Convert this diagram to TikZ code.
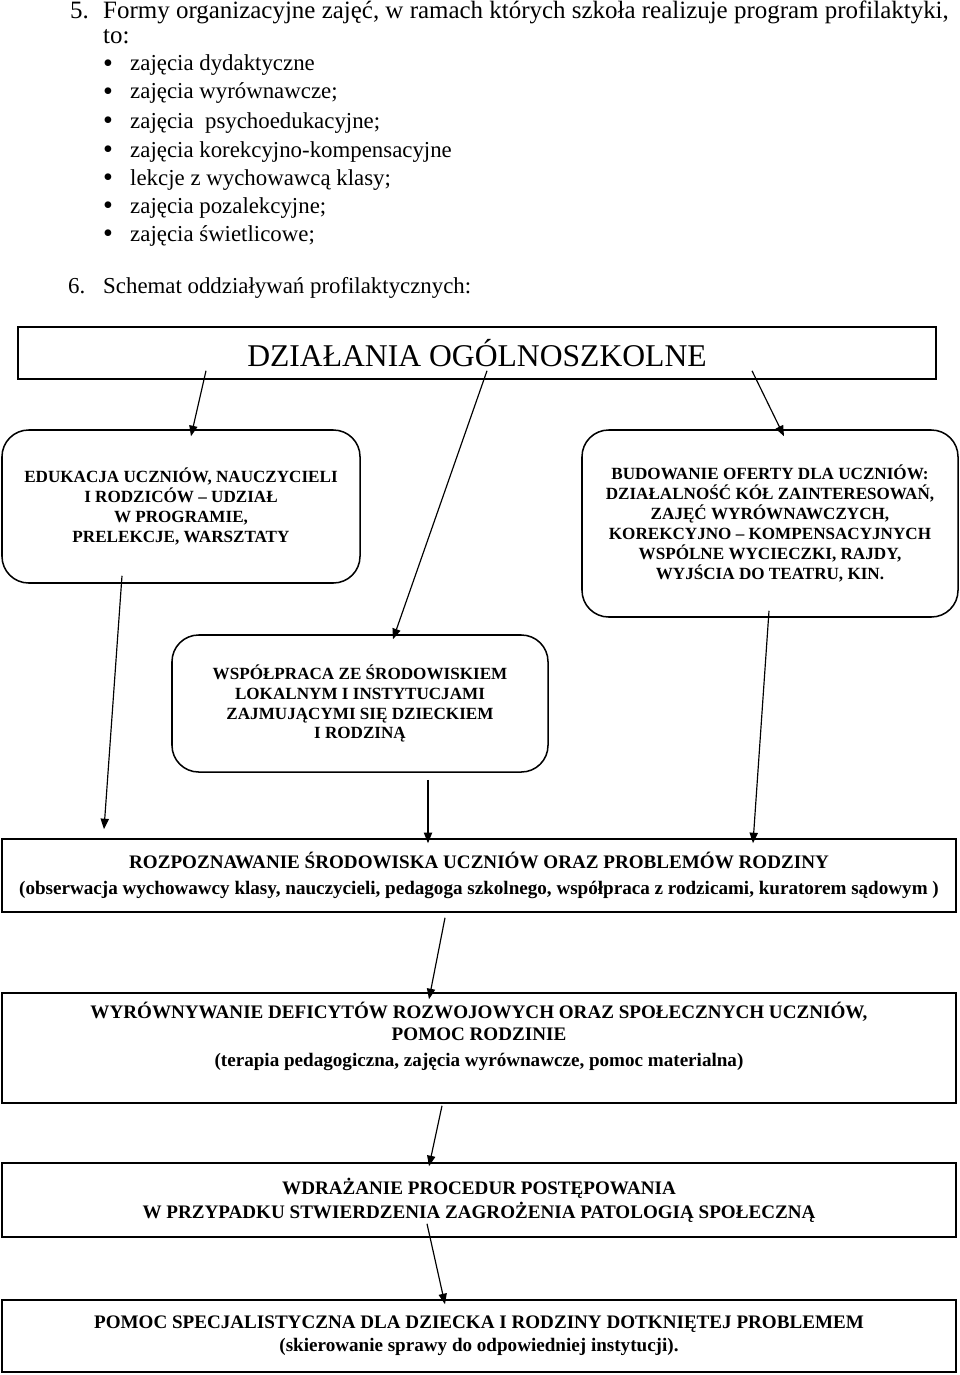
\documentclass[tikz,border=0pt]{standalone}
\usepackage{fontspec}
\setmainfont{Liberation Serif}
\usetikzlibrary{arrows.meta, calc, positioning}

\begin{document}
\begin{tikzpicture}[
            x=0.03cm, y=-0.03cm,
            listtxt/.style={font=\fontsize{19.5}{23}\selectfont, inner sep=0pt, anchor=base west},
            toptxt/.style={listtxt, font=\fontsize{21.3}{25}\selectfont},
            dottxt/.style={inner sep=0pt, anchor=base, font=\fontsize{24}{24}\selectfont},
            topbox/.style={rectangle, draw=black, line width=1.3pt, font=\fontsize{27}{30}\selectfont},
            softbox/.style={rectangle, rounded corners=0.8cm, draw=black, line width=1.3pt, align=center, font=\bfseries\fontsize{14.6}{17}\selectfont},
            stagebox/.style={rectangle, draw=black, line width=1.3pt, align=center, minimum width=28.62cm, font=\bfseries\fontsize{16.3}{19.5}\selectfont},
            arrow/.style={line width=1pt, -{Triangle[length=9pt, width=7pt]}}
        ]

            \useasboundingbox (0,0) rectangle (960,1375);

            % Tekst nad schematem
            \node[toptxt] (nr5) at (70,18.5) {5.};
            \node[toptxt] (forms) at (103,18.5) {Formy organizacyjne zajęć, w ramach których szkoła realizuje program profilaktyki,};
            \node[toptxt] (to) at (103,44) {to:};
            \foreach \i/\yy/\txt in {1/71/{zajęcia dydaktyczne}, 2/99/{zajęcia wyrównawcze;}, 3/128/{zajęcia\ \ psychoedukacyjne;}, 4/157/{zajęcia korekcyjno-kompensacyjne}, 5/185/{lekcje z wychowawcą klasy;}, 6/213/{zajęcia pozalekcyjne;}, 7/241/{zajęcia świetlicowe;}} {
                \node[dottxt] (dot\i) at (108,\yy+1) {•};
                \node[listtxt] (item\i) at (130,\yy) {\txt};
            }
            \node[listtxt] (nr6) at (68,293) {6.};
            \node[listtxt] (schemat) at (103,293) {Schemat oddziaływań profilaktycznych:};

            % Bloki schematu
            \node[topbox, minimum width=27.54cm, minimum height=1.56cm] (top) at (477,353) {DZIAŁANIA OGÓLNOSZKOLNE};
            \node[softbox, minimum width=10.74cm, minimum height=4.59cm] (edu) at (181,506.5) {EDUKACJA UCZNIÓW, NAUCZYCIELI\\ I RODZICÓW – UDZIAŁ\\ W PROGRAMIE,\\ PRELEKCJE, WARSZTATY};
            \node[softbox, minimum width=11.28cm, minimum height=5.61cm] (oferta) at (770,523.5) {BUDOWANIE OFERTY DLA UCZNIÓW:\\ DZIAŁALNOŚĆ KÓŁ ZAINTERESOWAŃ,\\ ZAJĘĆ WYRÓWNAWCZYCH,\\ KOREKCYJNO – KOMPENSACYJNYCH\\ WSPÓLNE WYCIECZKI, RAJDY,\\ WYJŚCIA DO TEATRU, KIN.};
            \node[softbox, minimum width=11.28cm, minimum height=4.11cm] (wsp) at (360,703.5) {WSPÓŁPRACA ZE ŚRODOWISKIEM\\ LOKALNYM I INSTYTUCJAMI\\ ZAJMUJĄCYMI SIĘ DZIECKIEM\\ I RODZINĄ};
            \node[stagebox, minimum height=2.19cm] (roz) at (479,875.5) {ROZPOZNAWANIE ŚRODOWISKA UCZNIÓW ORAZ PROBLEMÓW RODZINY\\[3pt] (obserwacja wychowawcy klasy, nauczycieli, pedagoga szkolnego, współpraca z rodzicami, kuratorem sądowym )};
            \node[stagebox, minimum height=3.3cm, text depth=24pt] (wyr) at (479,1048) {WYRÓWNYWANIE DEFICYTÓW ROZWOJOWYCH ORAZ SPOŁECZNYCH UCZNIÓW,\\ POMOC RODZINIE\\[2pt] (terapia pedagogiczna, zajęcia wyrównawcze, pomoc materialna)};
            \node[stagebox, minimum height=2.22cm] (wdr) at (479,1200) {WDRAŻANIE PROCEDUR POSTĘPOWANIA\\[1pt] W PRZYPADKU STWIERDZENIA ZAGROŻENIA PATOLOGIĄ SPOŁECZNĄ};
            \node[stagebox, minimum height=2.16cm] (pomoc) at (479,1336) {POMOC SPECJALISTYCZNA DLA DZIECKA I RODZINY DOTKNIĘTEJ PROBLEMEM\\ (skierowanie sprawy do odpowiedniej instytucji).};

            % Strzałki
            \draw[arrow] ($(top.south)+(-271,-9)$) -- ($(edu.north)+(10,7)$);
            \draw[arrow] ($(top.south)+(10,-9)$) -- ($(wsp.north)+(33,5)$);
            \draw[arrow] ($(top.south)+(275,-9)$) -- ($(oferta.north)+(14,7)$);
            \draw[arrow] ($(edu.south)+(-59,-8)$) -- ($(roz.north)+(-375,-9)$);
            \draw[arrow] ($(wsp.south)+(68,7)$) -- ($(roz.north)+(-51,5)$);
            \draw[arrow] ($(oferta.south)+(-1,-7)$) -- ($(roz.north)+(274,5)$);
            \draw[arrow] ($(roz.south)+(-34,5)$) -- ($(wyr.north)+(-50,7)$);
            \draw[arrow] ($(wyr.south)+(-37,2)$) -- ($(wdr.north)+(-50,4)$);
            \draw[arrow] ($(wdr.south)+(-52,-14)$) -- ($(pomoc.north)+(-34,5)$);

        \end{tikzpicture}
\end{document}
